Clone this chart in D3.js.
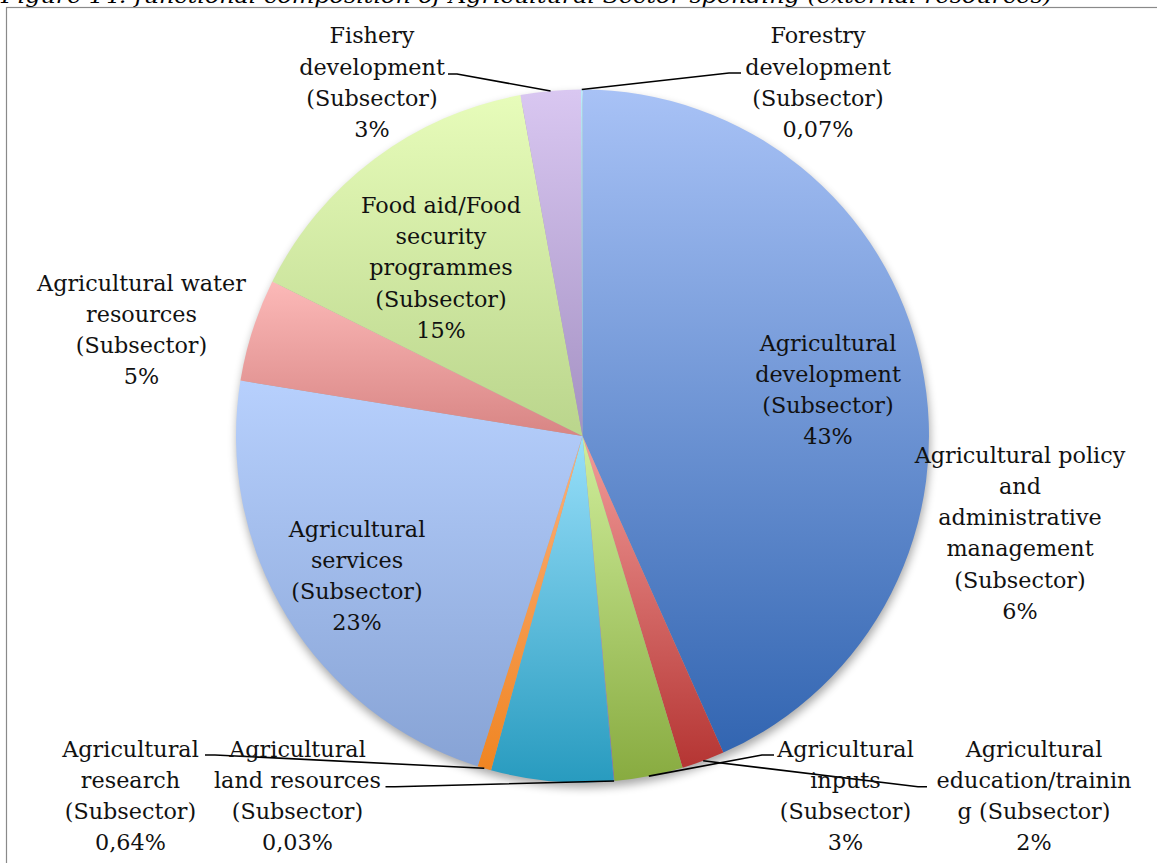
<!DOCTYPE html>
<html>
<head>
<meta charset="utf-8">
<script src="https://cdn.jsdelivr.net/npm/d3@7"></script>
<style>
  html, body { margin: 0; padding: 0; background: #fff; }
  svg { display: block; }
</style>
</head>
<body>
<svg id="chart" width="1157" height="863"></svg>
<script>
// ---- data ----
const categories = [
  "Agricultural development (Subsector)",
  "Agricultural education/training (Subsector)",
  "Agricultural inputs (Subsector)",
  "Agricultural land resources (Subsector)",
  "Agricultural policy and administrative management (Subsector)",
  "Agricultural research (Subsector)",
  "Agricultural services (Subsector)",
  "Agricultural water resources (Subsector)",
  "Food aid/Food security programmes (Subsector)",
  "Fishery development (Subsector)",
  "Forestry development (Subsector)"
];
const values = [43.4, 2.0, 3.2, 0.03, 5.7, 0.64, 22.7, 4.8, 14.8, 2.8, 0.07];
const labelLines = [
  ["Agricultural", "development", "(Subsector)"],
  ["Agricultural", "education/trainin", "g (Subsector)"],
  ["Agricultural", "inputs", "(Subsector)"],
  ["Agricultural", "land resources", "(Subsector)"],
  ["Agricultural policy", "and", "administrative", "management", "(Subsector)"],
  ["Agricultural", "research", "(Subsector)"],
  ["Agricultural", "services", "(Subsector)"],
  ["Agricultural water", "resources", "(Subsector)"],
  ["Food aid/Food", "security", "programmes", "(Subsector)"],
  ["Fishery", "development", "(Subsector)"],
  ["Forestry", "development", "(Subsector)"]
];
const titleText = "Figure 14: functional composition of Agricultural Sector spending (external resources)";

// ---- styles ----
const gradColors = [
  ["#a8c2f6", "#3265b1"],
  ["#f29c9a", "#b53533"],
  ["#d0ee9c", "#88ab40"],
  ["#c8b3e8", "#7a5fa0"],
  ["#98dffa", "#289bbf"],
  ["#fbb07a", "#f08522"],
  ["#b7d0fd", "#87a3d5"],
  ["#fcb9b8", "#d88584"],
  ["#e7fcba", "#bad58c"],
  ["#d9c7f1", "#a491c3"],
  ["#b8ecfc", "#8ed0ea"]
];

// ---- layout (pixel positions of labels and leader elbows) ----
const W = 1157, H = 863;
const cx = 582.5, cy = 436, R = 346.5;
const lineH = 31.2;
const labelPos = [
  [828, 350.7], [1034, 756.7], [845.5, 756.7], [297.5, 756.7], [1020, 462.7],
  [130.5, 756.7], [357, 536.7], [141.5, 290.7], [441, 213], [372, 43.3], [818, 43.3]
];
const leaders = {
  1: [[918, 786.7], [927, 786.7]],
  2: [[762, 755], [774, 755]],
  3: [[395, 786.7], [385.5, 786.7]],
  5: [[215, 755], [205, 755]],
  9: [[457, 74], [448, 74]],
  10: [[729, 73], [741, 73]]
};

const fmtPct = v => (v < 1 ? v.toFixed(2).replace(".", ",") : String(Math.round(v))) + "%";

const svg = d3.select("#chart");
const defs = svg.append("defs");

// drop shadow
const f = defs.append("filter").attr("id", "shadow")
  .attr("x", "-10%").attr("y", "-10%").attr("width", "120%").attr("height", "120%");
f.append("feGaussianBlur").attr("stdDeviation", 5);

gradColors.forEach((c, i) => {
  const g = defs.append("linearGradient").attr("id", "g" + i)
    .attr("x1", 0).attr("y1", 0).attr("x2", 0).attr("y2", 1);
  g.append("stop").attr("offset", "0%").attr("stop-color", c[0]);
  g.append("stop").attr("offset", "100%").attr("stop-color", c[1]);
});

// frame
svg.append("rect")
  .attr("x", 6.5).attr("y", 7.5).attr("width", W + 10).attr("height", H + 10)
  .attr("fill", "none").attr("stroke", "#8a8a8a").attr("stroke-width", 1.2);

// clipped title
svg.append("text")
  .attr("x", 1).attr("y", 3)
  .attr("textLength", 1051).attr("lengthAdjust", "spacingAndGlyphs")
  .attr("font-family", "DejaVu Serif").attr("font-style", "italic")
  .attr("font-size", 21).attr("fill", "#000")
  .text(titleText);

const pie = d3.pie().sort(null).value(d => d).startAngle(0).endAngle(2 * Math.PI);
const arcs = pie(values);
const arc = d3.arc().innerRadius(0).outerRadius(R);
const edge = d3.arc().innerRadius(R).outerRadius(R);

const g = svg.append("g").attr("transform", `translate(${cx},${cy})`);

// shadow disc
g.append("circle").attr("cx", 1).attr("cy", 5).attr("r", R)
  .attr("fill", "#000").attr("opacity", 0.35).attr("filter", "url(#shadow)");

g.selectAll("path.slice").data(arcs).join("path")
  .attr("class", "slice")
  .attr("d", arc)
  .attr("fill", (d, i) => `url(#g${i})`);

// leader lines
arcs.forEach((d, i) => {
  if (!leaders[i]) return;
  const p0 = edge.centroid(d);
  const pts = [[p0[0] + cx, p0[1] + cy], ...leaders[i]];
  svg.append("path")
    .attr("d", d3.line()(pts))
    .attr("fill", "none").attr("stroke", "#000").attr("stroke-width", 1.6);
});

// labels
arcs.forEach((d, i) => {
  const lines = labelLines[i].concat([fmtPct(values[i])]);
  const t = svg.append("text")
    .attr("font-family", "DejaVu Serif").attr("font-size", 22.3)
    .attr("fill", "#111").attr("text-anchor", "middle");
  lines.forEach((s, k) => {
    t.append("tspan").attr("x", labelPos[i][0]).attr("y", labelPos[i][1] + k * lineH).text(s);
  });
});
</script>
</body>
</html>
